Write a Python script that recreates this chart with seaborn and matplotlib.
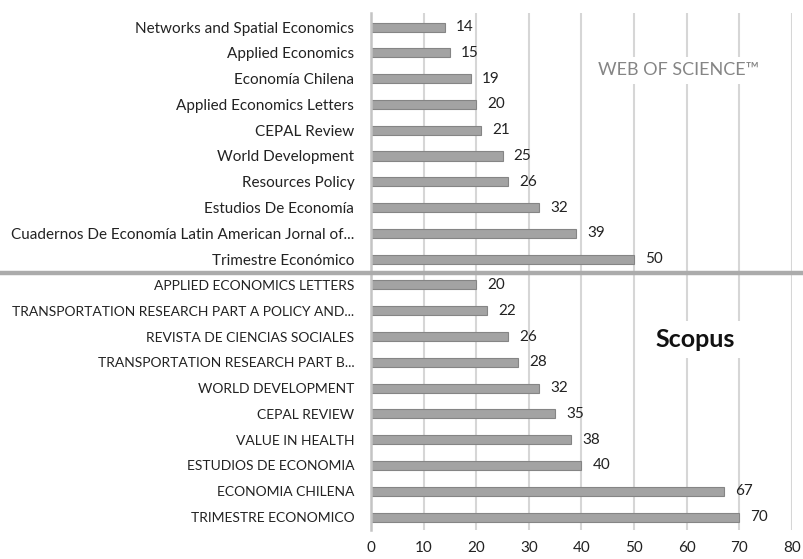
import pandas as pd
import matplotlib
matplotlib.use("Agg")
import matplotlib.pyplot as plt
import matplotlib.transforms as mtransforms
from matplotlib.lines import Line2D
import seaborn as sns

# Web of Science journals (top to bottom)
wos_journals = [
    "Networks and Spatial Economics",
    "Applied Economics",
    "Economía Chilena",
    "Applied Economics Letters",
    "CEPAL Review",
    "World Development",
    "Resources Policy",
    "Estudios De Economía",
    "Cuadernos De Economía Latin American Jornal of...",
    "Trimestre Económico",
]
wos_counts = [14, 15, 19, 20, 21, 25, 26, 32, 39, 50]

# Scopus journals (top to bottom)
scopus_journals = [
    "APPLIED ECONOMICS LETTERS",
    "TRANSPORTATION RESEARCH PART A POLICY AND...",
    "REVISTA DE CIENCIAS SOCIALES",
    "TRANSPORTATION RESEARCH PART B...",
    "WORLD DEVELOPMENT",
    "CEPAL REVIEW",
    "VALUE IN HEALTH",
    "ESTUDIOS DE ECONOMIA",
    "ECONOMIA CHILENA",
    "TRIMESTRE ECONOMICO",
]
scopus_counts = [20, 22, 26, 28, 32, 35, 38, 40, 67, 70]

x_ticks = [0, 10, 20, 30, 40, 50, 60, 70, 80]

df = pd.DataFrame({
    "journal": wos_journals + scopus_journals,
    "count": wos_counts + scopus_counts,
})

sns.set_theme(style="white")
plt.rcParams["font.family"] = ["Lato", "DejaVu Sans"]

fig = plt.figure(figsize=(8.04, 5.59), dpi=100)
ax = fig.add_axes([0.4614, 0.052, 0.5236, 0.925])

sns.barplot(data=df, y="journal", x="count", orient="h", color="#a3a3a3",
            edgecolor="#858585", linewidth=0.8, width=0.35, saturation=1, ax=ax)

for c in ax.containers:
    ax.bar_label(c, padding=8, fontsize=11, color="#222222")

ax.set_xlim(0, 80)
ax.set_ylim(19.5, -0.55)
ax.set_xticks(x_ticks)
ax.xaxis.grid(True, color="#d6d6d6", linewidth=1.5)
ax.set_axisbelow(True)
for s in ["top", "right", "bottom"]:
    ax.spines[s].set_visible(False)
ax.spines["left"].set_color("#c4c4c4")
ax.spines["left"].set_linewidth(1.8)
ax.tick_params(axis="y", length=0, pad=12, labelsize=11, labelcolor="#222222")
ax.tick_params(axis="x", length=0, pad=8, labelsize=11, labelcolor="#222222")
# upper-case Scopus names are set a bit smaller so they fit like the original
for lbl in ax.get_yticklabels():
    if lbl.get_text() in scopus_journals:
        lbl.set_fontsize(10)
ax.set_xlabel("")
ax.set_ylabel("")

# separator between the two databases
trans = mtransforms.blended_transform_factory(fig.transFigure, ax.transData)
fig.add_artist(Line2D([0, 1], [9.52, 9.52], transform=trans,
                      color="#ababab", linewidth=3.2))

ax.text(58.5, 1.67, "WEB OF SCIENCE\u2122", fontsize=13, color="#858585",
        fontweight="normal", ha="center", va="center",
        bbox=dict(facecolor="white", edgecolor="none", pad=4))
ax.text(61.6, 12.13, "Scopus", fontsize=18, color="#111111",
        fontweight="bold", ha="center", va="center",
        bbox=dict(facecolor="white", edgecolor="none", pad=5))

fig.savefig("out.png", dpi=100)
